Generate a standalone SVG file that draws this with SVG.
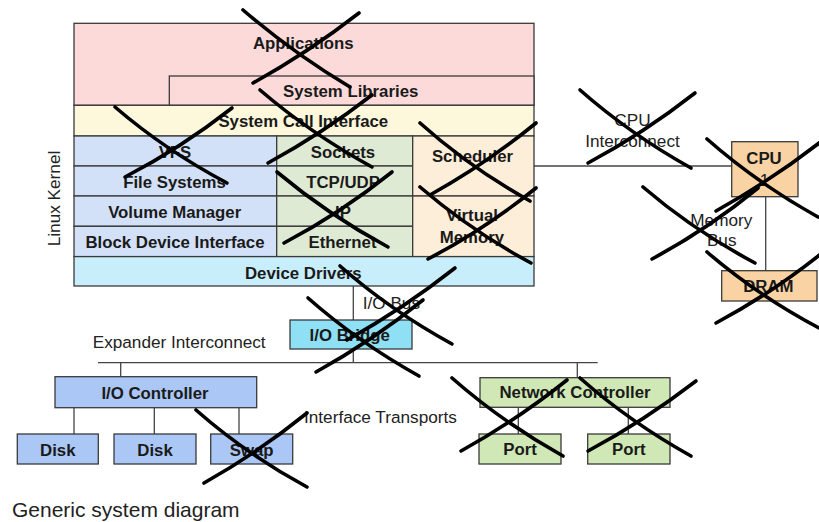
<svg xmlns="http://www.w3.org/2000/svg" width="819" height="522" viewBox="0 0 819 522">
<style>
.b{stroke:#3a3a3a;stroke-width:1.3}
.t{font-family:"Liberation Sans",Arial,sans-serif;font-weight:bold;font-size:16.8px;fill:#1a1a1a;text-anchor:middle}
.l{font-family:"Liberation Sans",Arial,sans-serif;font-size:17.2px;fill:#222}
.c{stroke:#444;stroke-width:1.3;fill:none}
.x{stroke:#000;stroke-width:3.6;fill:none;stroke-linecap:round}
.pink{fill:#fcdada}.cream{fill:#fdf8dc}.lblue{fill:#d3e1f8}.lgreen{fill:#dfead5}.lorange{fill:#fdeed9}
.dd{fill:#c9eefb}.peach{fill:#fad3a5}.cyan{fill:#8fdff5}.blue{fill:#abc7f6}.green{fill:#d0e8b5}
</style>
<rect width="819" height="522" fill="#fff"/>
<g id="connectors">
<path class="c" d="M534 166H732"/>
<path class="c" d="M765.7 196.7V270.7"/>
<path class="c" d="M353.3 286V362.7"/>
<path class="c" d="M98 362.7H597.7"/>
<path class="c" d="M120.7 362.7V376.7"/>
<path class="c" d="M74 407.7V434M154.3 407.7V434M239 407.7V434"/>
<path class="c" d="M577.3 362.7V377.7"/>
<path class="c" d="M518.3 407.3V434M628.3 407.3V434"/>
</g>
<g id="applications"><rect class="b pink" x="74" y="23.3" width="460" height="82"/><text class="t" x="303.3" y="49.3">Applications</text></g>
<g id="system-libraries"><rect class="b pink" x="169.3" y="76" width="364.7" height="29.3"/><text class="t" x="350.7" y="96.7">System Libraries</text></g>
<g id="system-call-interface"><rect class="b cream" x="74" y="105.3" width="460" height="30.7"/><text class="t" x="303.3" y="126.7">System Call Interface</text></g>
<g id="vfs"><rect class="b lblue" x="74" y="136" width="202.7" height="30"/><text class="t" x="175" y="157.7">VFS</text></g>
<g id="file-systems"><rect class="b lblue" x="74" y="166" width="202.7" height="30"/><text class="t" x="174.5" y="187.7">File Systems</text></g>
<g id="volume-manager"><rect class="b lblue" x="74" y="196" width="202.7" height="30.3"/><text class="t" x="174.7" y="217.7">Volume Manager</text></g>
<g id="block-device-interface"><rect class="b lblue" x="74" y="226.3" width="202.7" height="30.3"/><text class="t" x="175" y="247.7">Block Device Interface</text></g>
<g id="sockets"><rect class="b lgreen" x="276.7" y="136" width="136" height="30"/><text class="t" x="343" y="157.7">Sockets</text></g>
<g id="tcp-udp"><rect class="b lgreen" x="276.7" y="166" width="136" height="30"/><text class="t" x="343" y="187.7">TCP/UDP</text></g>
<g id="ip"><rect class="b lgreen" x="276.7" y="196" width="136" height="30.3"/><text class="t" x="343" y="217.7">IP</text></g>
<g id="ethernet"><rect class="b lgreen" x="276.7" y="226.3" width="136" height="30.3"/><text class="t" x="342.5" y="247.7">Ethernet</text></g>
<g id="scheduler"><rect class="b lorange" x="412.7" y="136" width="121.3" height="60"/><text class="t" x="472.5" y="162">Scheduler</text></g>
<g id="virtual-memory"><rect class="b lorange" x="412.7" y="196" width="121.3" height="60.6"/><text class="t" x="472" y="221">Virtual</text><text class="t" x="472" y="242.7">Memory</text></g>
<g id="device-drivers"><rect class="b dd" x="74" y="256.6" width="460" height="29.4"/><text class="t" x="303.3" y="278.7">Device Drivers</text></g>
<g id="linux-kernel-label"><text class="l" text-anchor="middle" transform="translate(59.5 198.5) rotate(-90)">Linux Kernel</text></g>
<g id="cpu-interconnect-label"><text class="l" text-anchor="middle" x="632.5" y="126.2">CPU</text><text class="l" text-anchor="middle" x="632.5" y="147.2">Interconnect</text></g>
<g id="cpu"><rect class="b peach" x="731.7" y="141.7" width="66.3" height="55"/><text class="t" x="764" y="163.7">CPU</text><text class="l" text-anchor="middle" x="764.5" y="186">1</text></g>
<g id="memory-bus-label"><text class="l" text-anchor="middle" x="721.3" y="225.5">Memory</text><text class="l" text-anchor="middle" x="721.7" y="245.5">Bus</text></g>
<g id="dram"><rect class="b peach" x="721.7" y="270.7" width="95.3" height="30.3"/><text class="t" x="768.3" y="292">DRAM</text></g>
<g id="io-bus-label"><text class="l" x="362.7" y="308.9">I/O Bus</text></g>
<g id="io-bridge"><rect class="b cyan" x="290" y="320" width="122" height="29"/><text class="t" x="349.7" y="341">I/O Bridge</text></g>
<g id="expander-interconnect-label"><text class="l" x="92.7" y="347.9">Expander Interconnect</text></g>
<g id="io-controller"><rect class="b blue" x="55" y="376.7" width="201.7" height="31"/><text class="t" x="155" y="398.7">I/O Controller</text></g>
<g id="disk1"><rect class="b blue" x="17.3" y="434" width="81" height="30"/><text class="t" x="57.8" y="456">Disk</text></g>
<g id="disk2"><rect class="b blue" x="114" y="434" width="82" height="30"/><text class="t" x="155" y="456">Disk</text></g>
<g id="swap"><rect class="b blue" x="210.7" y="434" width="82" height="30"/><text class="t" x="251.7" y="456">Swap</text></g>
<g id="interface-transports-label"><text class="l" x="304" y="422.9">Interface Transports</text></g>
<g id="network-controller"><rect class="b green" x="480" y="377.7" width="190" height="29.6"/><text class="t" x="575" y="398.3">Network Controller</text></g>
<g id="port1"><rect class="b green" x="479" y="434" width="82" height="30"/><text class="t" x="520" y="455.3">Port</text></g>
<g id="port2"><rect class="b green" x="587.7" y="434" width="82.3" height="30"/><text class="t" x="628.8" y="455.3">Port</text></g>
<g id="caption"><text class="l" x="12" y="517" style="font-size:21px">Generic system diagram</text></g>
<g id="crosses">
<path class="x" d="M243 10Q293 53 350 87M253 83Q309 52 359 13"/>
<path class="x" d="M260 90Q310 133 372 167M268 163Q323 133 372 95"/>
<path class="x" d="M115 107Q165 150 227 183M125 177Q181 148 232 108"/>
<path class="x" d="M277 172Q327 214 388 247M284 243Q341 213 392 172"/>
<path class="x" d="M420 123Q469 167 530 201M430 195Q486 164 536 123"/>
<path class="x" d="M420 187Q470 230 531 263M428 259Q485 229 536 188"/>
<path class="x" d="M340 266Q390 310 452 344M347 340Q403 309 455 268"/>
<path class="x" d="M308 298Q358 342 419 376M316 372Q372 341 423 300"/>
<path class="x" d="M580 90Q630 134 691 168M588 163Q644 133 695 93"/>
<path class="x" d="M707 139Q757 183 818 217M716 211Q772 180 823 140"/>
<path class="x" d="M643 187Q693 230 755 263M652 259Q708 229 758 188"/>
<path class="x" d="M707 252Q757 295 819 328M716 323Q772 293 822 253"/>
<path class="x" d="M196 410Q246 454 307 487M204 483Q259 452 307 413"/>
<path class="x" d="M452 378Q502 422 563 456M461 451Q517 420 567 380"/>
<path class="x" d="M580 378Q630 422 691 456M588 451Q644 421 696 381"/>
</g>
</svg>
